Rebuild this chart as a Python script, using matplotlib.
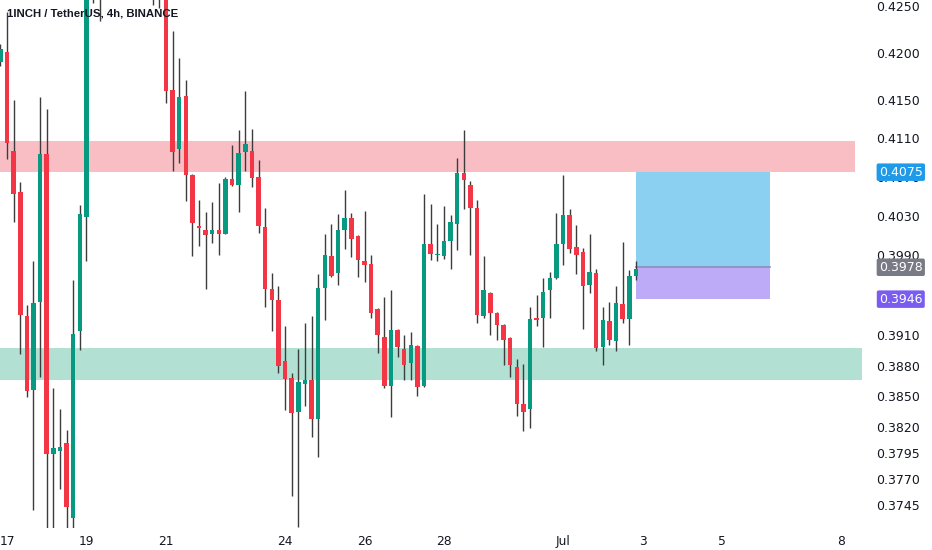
import matplotlib
matplotlib.use("Agg")
import matplotlib.pyplot as plt
from matplotlib.ticker import FixedLocator, NullLocator, NullFormatter

# 4h candles, index 0 = Jun 17 00:00 (index -1 is the partly visible one before it)
idx = list(range(-1, 96))
opens = [0.4190, 0.4201, 0.4097, 0.4055, 0.3929, 0.3856, 0.3943, 0.4094, 0.3794, 0.3797,
         0.3805, 0.3733, 0.3914, 0.4029, 0.4262, 0.4290, 0.4275, 0.4305, 0.4325, 0.4310,
         0.4295, 0.4330, 0.4318, 0.4300, 0.4285, 0.4278, 0.4161, 0.4099, 0.4154, 0.4072,
         0.4020, 0.4016, 0.4012, 0.4016, 0.4012, 0.4068, 0.4062, 0.4096, 0.4097, 0.4070,
         0.4019, 0.3956, 0.3945, 0.3885, 0.3868, 0.3835, 0.3862, 0.3866, 0.3828, 0.3957,
         0.3989, 0.3972, 0.4016, 0.4028, 0.4010, 0.3984, 0.3981, 0.3936, 0.3908, 0.3860,
         0.3915, 0.3896, 0.3883, 0.3899, 0.3860, 0.4002, 0.3990, 0.3989, 0.4005, 0.4022,
         0.4074, 0.4062, 0.4038, 0.3929, 0.3952, 0.3932, 0.3920, 0.3907, 0.3879, 0.3843,
         0.3838, 0.3927, 0.3927, 0.3955, 0.3967, 0.4002, 0.4031, 0.3998, 0.3993, 0.3960,
         0.3972, 0.3898, 0.3924, 0.3904, 0.3941, 0.3926, 0.3969]
highs = [0.4209, 0.4244, 0.4150, 0.4065, 0.3940, 0.3984, 0.4153, 0.4141, 0.3858, 0.3838,
         0.3817, 0.3965, 0.4041, 0.4270, 0.4300, 0.4312, 0.4318, 0.4340, 0.4352, 0.4330,
         0.4345, 0.4360, 0.4335, 0.4322, 0.4310, 0.4290, 0.4223, 0.4195, 0.4171, 0.4073,
         0.4046, 0.4034, 0.4044, 0.4064, 0.4070, 0.4103, 0.4119, 0.4160, 0.4120, 0.4088,
         0.4038, 0.3972, 0.3959, 0.3919, 0.3873, 0.3896, 0.3922, 0.3929, 0.3971, 0.4012,
         0.4022, 0.4032, 0.4057, 0.4033, 0.4011, 0.4035, 0.3990, 0.3937, 0.3948, 0.3955,
         0.3916, 0.3910, 0.3913, 0.3900, 0.4053, 0.4042, 0.4022, 0.4040, 0.4031, 0.4090,
         0.4119, 0.4066, 0.4046, 0.3989, 0.3953, 0.3933, 0.3921, 0.3908, 0.3887, 0.3882,
         0.3938, 0.3950, 0.3967, 0.3973, 0.4033, 0.4072, 0.4037, 0.4021, 0.3997, 0.4012,
         0.3976, 0.3938, 0.3943, 0.3959, 0.4004, 0.3975, 0.3984]
lows = [0.4186, 0.4089, 0.4024, 0.3892, 0.3849, 0.3741, 0.3869, 0.3724, 0.3724, 0.3761,
        0.3724, 0.3724, 0.3895, 0.3984, 0.4253, 0.4234, 0.4262, 0.4290, 0.4300, 0.4280,
        0.4288, 0.4310, 0.4285, 0.4251, 0.4248, 0.4147, 0.4076, 0.4084, 0.4045, 0.3989,
        0.3999, 0.3956, 0.4003, 0.3990, 0.4012, 0.4061, 0.4034, 0.4076, 0.4060, 0.4013,
        0.3938, 0.3914, 0.3873, 0.3837, 0.3754, 0.3725, 0.3841, 0.3811, 0.3791, 0.3925,
        0.3968, 0.3960, 0.3996, 0.3988, 0.3968, 0.3963, 0.3927, 0.3893, 0.3858, 0.3830,
        0.3889, 0.3866, 0.3866, 0.3850, 0.3859, 0.3985, 0.3984, 0.3986, 0.3976, 0.3995,
        0.4037, 0.3990, 0.3922, 0.3927, 0.3910, 0.3905, 0.3881, 0.3869, 0.3831, 0.3816,
        0.3819, 0.3919, 0.3898, 0.3927, 0.3966, 0.3980, 0.3992, 0.3971, 0.3916, 0.3952,
        0.3894, 0.3881, 0.3900, 0.3894, 0.3922, 0.3900, 0.3965]
closes = [0.4204, 0.4105, 0.4053, 0.3930, 0.3855, 0.3942, 0.4094, 0.3794, 0.3800, 0.3801,
          0.3744, 0.3911, 0.4032, 0.4262, 0.4290, 0.4275, 0.4305, 0.4325, 0.4310, 0.4295,
          0.4330, 0.4318, 0.4300, 0.4285, 0.4278, 0.4160, 0.4096, 0.4153, 0.4072, 0.4023,
          0.4018, 0.4011, 0.4016, 0.4012, 0.4068, 0.4062, 0.4095, 0.4104, 0.4069, 0.4020,
          0.3956, 0.3945, 0.3880, 0.3867, 0.3834, 0.3864, 0.3866, 0.3828, 0.3957, 0.3990,
          0.3969, 0.4016, 0.4028, 0.4007, 0.3985, 0.3980, 0.3932, 0.3910, 0.3860, 0.3915,
          0.3898, 0.3881, 0.3900, 0.3859, 0.4002, 0.3991, 0.3991, 0.4005, 0.4024, 0.4074,
          0.4067, 0.4038, 0.3930, 0.3955, 0.3932, 0.3920, 0.3905, 0.3881, 0.3843, 0.3835,
          0.3926, 0.3925, 0.3953, 0.3967, 0.4002, 0.4031, 0.3996, 0.3990, 0.3959, 0.3973,
          0.3897, 0.3925, 0.3905, 0.3942, 0.3926, 0.3969, 0.3976]

# zones and the long position tool
resistance = (0.4075, 0.4107)
support = (0.3866, 0.3897)
target_price = 0.4075
entry_price = 0.3978
stop_price = 0.3946

price_ticks = [0.4250, 0.4200, 0.4150, 0.4110, 0.4070, 0.4030, 0.3990, 0.3950,
               0.3910, 0.3880, 0.3850, 0.3820, 0.3795, 0.3770, 0.3745]
date_labels = ["17", "19", "21", "24", "26", "28", "Jul", "3", "5", "8"]
date_days = [0, 2, 4, 7, 9, 11, 14, 16, 18, 21]   # days after Jun 17

UP = "#089981"
DOWN = "#F23645"
WICK = "#3c3c3c"
TXT = "#131722"

fig = plt.figure(figsize=(9.32, 5.5), dpi=100)
ax = fig.add_axes([0, 22 / 550, 862 / 932, 528 / 550])
ax.set_yscale("log")

ax.axhspan(resistance[0], resistance[1], xmin=0, xmax=855 / 862, color="#F9BEC4", lw=0, zorder=0)
ax.axhspan(support[0], support[1], xmin=0, xmax=1, color="#B2E1D4", lw=0, zorder=0)

box_x = [95, 115.3]
ax.fill_between(box_x, entry_price, target_price, color="#8BD0F0", lw=0, zorder=1)
ax.fill_between(box_x, stop_price, entry_price, color="#BDABF7", lw=0, zorder=1)
ax.plot(box_x, [entry_price, entry_price], color="#8F8AC0", lw=1.2, zorder=1.5)

for i, o, h, l, c in zip(idx, opens, highs, lows, closes):
    col = UP if c >= o else DOWN
    ax.vlines(i, l, h, color=WICK, lw=1.0, zorder=2)
    bot = min(o, c)
    ht = max(abs(c - o), 0.00004)
    ax.bar(i, ht, bottom=bot, width=0.68, color=col, lw=0, zorder=3)

ax.set_xlim(-1.06, 129.15)
ax.set_ylim(0.37237, 0.42567)

ax.yaxis.tick_right()
ax.yaxis.set_major_locator(FixedLocator(price_ticks))
ax.yaxis.set_major_formatter(plt.FixedFormatter(["%.4f" % p for p in price_ticks]))
ax.yaxis.set_minor_locator(NullLocator())
ax.yaxis.set_minor_formatter(NullFormatter())
ax.set_xticks([d * 6 for d in date_days])
ax.set_xticklabels(date_labels)
ax.tick_params(axis="y", length=0, pad=10, labelsize=9, labelcolor=TXT)
ax.tick_params(axis="x", length=0, pad=5, labelsize=8.8, labelcolor=TXT)
for s in ax.spines.values():
    s.set_visible(False)

tr = ax.get_yaxis_transform()
for price, bg in [(target_price, "#1E9BE8"), (entry_price, "#787B86"), (stop_price, "#7B5CF0")]:
    ax.text(1.045, price, "%.4f" % price, transform=tr, ha="center", va="center",
            fontsize=9, color="white", clip_on=False, zorder=5,
            bbox=dict(boxstyle="round,pad=0.18,rounding_size=0.15", fc=bg, ec="none"))

fig.text(7 / 932, 1 - 13 / 550, "1INCH / TetherUS, 4h, BINANCE", ha="left", va="center",
         fontsize=8.2, fontweight="bold", family=["Liberation Sans", "DejaVu Sans"], color=TXT)

fig.savefig("out.png", dpi=100, facecolor="white")
